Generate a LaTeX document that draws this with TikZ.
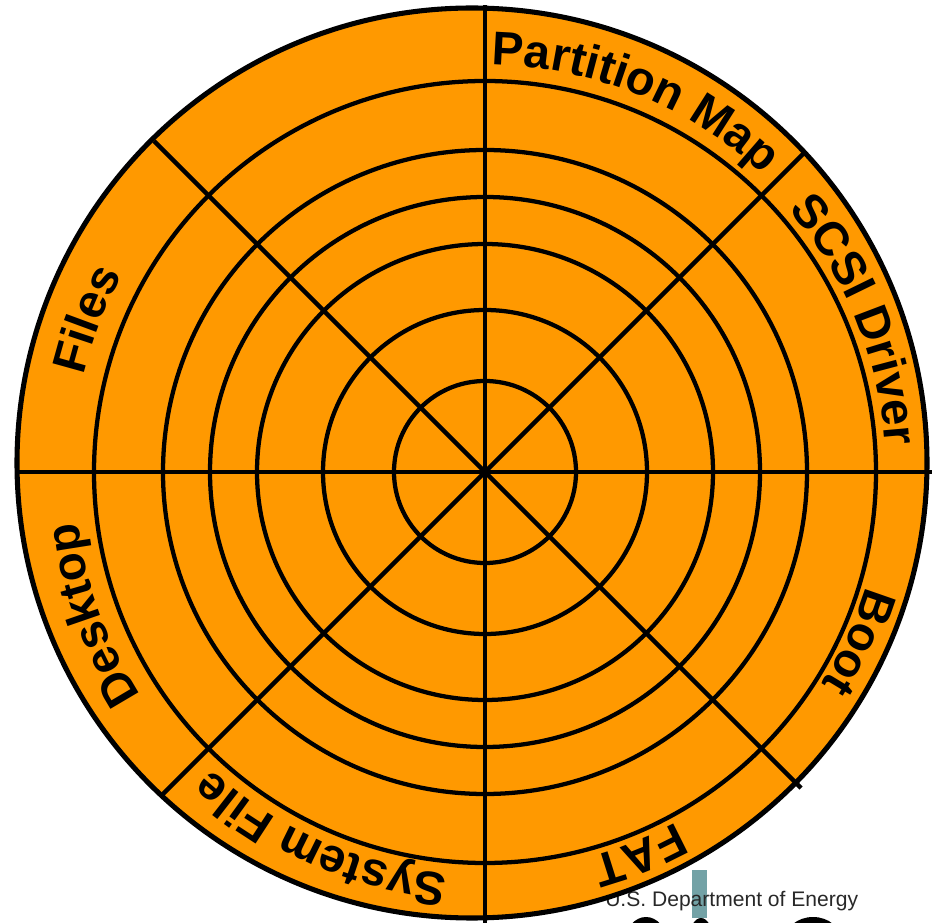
\documentclass[tikz,border=0pt]{standalone}
\usepackage{fontspec}
\setmainfont{Liberation Sans}
\usetikzlibrary{decorations.text,calc}
\definecolor{diskorange}{RGB}{255,153,0}
\definecolor{barteal}{RGB}{115,162,166}
\definecolor{doegray}{RGB}{40,40,40}
\newcommand\dlabfont{\fontsize{35.5}{40}\selectfont\bfseries}
\begin{document}
\begin{tikzpicture}[x=0.75pt,y=0.75pt,
  outerline/.style={line width=3.8pt},
  ringline/.style={line width=3.2pt},
  spoke/.style={line width=3.4pt},
  disklabel/.style={decorate,decoration={text along path,text align=center,text={|\dlabfont|#1}}}
]
\useasboundingbox (0,0) rectangle (932,922);
\clip (0,0) rectangle (932,922);
\fill[white] (0,0) rectangle (932,922);
% logo fragments at the bottom
\fill[barteal] (692,4) rectangle (707,52);
\fill[black] (646,-18) ellipse[x radius=20,y radius=23];
\fill[black] (701,-18) ellipse[x radius=12,y radius=22];
\fill[black] (813,-18) ellipse[x radius=28,y radius=23];
\node[anchor=base west,inner sep=0pt,text=doegray,font=\fontsize{15.8}{18}\selectfont] (doe) at (605,16) {U.S. Department of Energy};
% disk
\coordinate (C) at (485,450);
\coordinate (O) at (472,459);
\draw[outerline,fill=diskorange] (O) circle[radius=455];
\foreach \r in {91,162,228,275,322,391} \draw[ringline] (C) circle[radius=\r];
% spokes
\coordinate (e0) at (932,450);
\coordinate (e180) at (18,450);
\coordinate (e90) at (485,917);
\coordinate (e270) at (485,-3);
\coordinate (d45) at ($(C)+(45:452)$);
\coordinate (d135) at ($(C)+(135:468)$);
\coordinate (d225) at ($(C)+(225:456)$);
\coordinate (d315) at ($(C)+(315:447)$);
\draw[spoke] (e180) -- (e0);
\draw[spoke] (e270) -- (e90);
\draw[spoke] (d225) -- (d45);
\draw[spoke] (d135) -- (d315);
% labels
\path[disklabel={Partition Map}] ($(C)+(108:407)$) arc[start angle=108,end angle=28,radius=407];
\path[disklabel={SCSI Driver}] ($(C)+(62.3:401)$) arc[start angle=62.3,end angle=-17.7,radius=401];
\path[disklabel={Boot}] ($(C)+(15.5:398)$) arc[start angle=15.5,end angle=-64.5,radius=398];
\path[disklabel={FAT}] ($(C)+(-28:399)$) arc[start angle=-28,end angle=-108,radius=399];
\path[disklabel={System File}] ($(C)+(-74:404)$) arc[start angle=-74,end angle=-154,radius=404];
\path[disklabel={Desktop}] ($(C)+(-120:410)$) arc[start angle=-120,end angle=-200,radius=410];
\path[disklabel={Files}] ($(C)+(199:413)$) arc[start angle=199,end angle=119,radius=413];
\end{tikzpicture}
\end{document}
